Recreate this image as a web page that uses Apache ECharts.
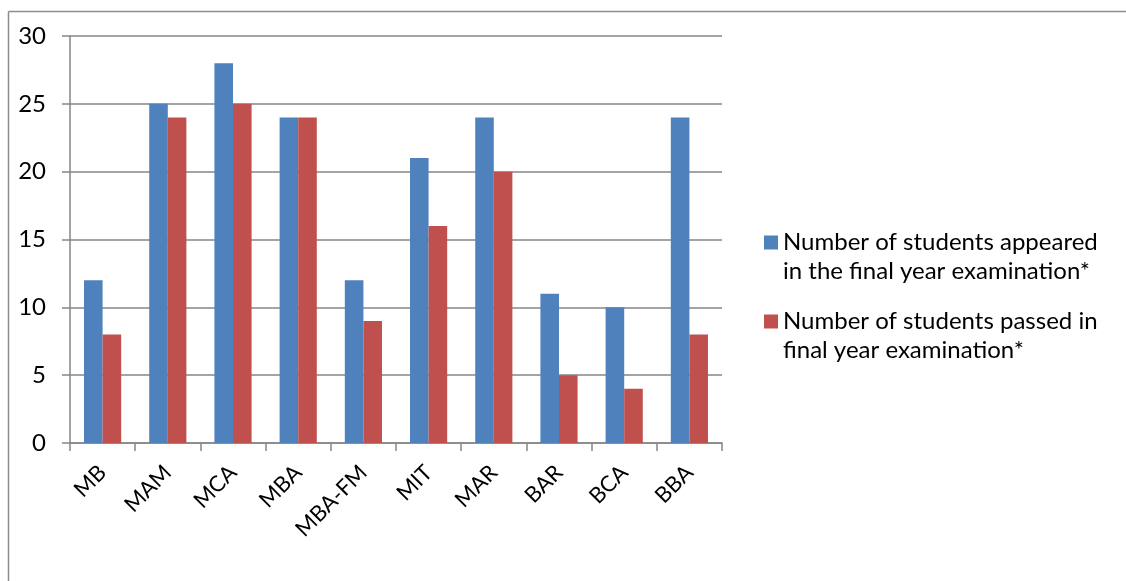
<!DOCTYPE html>
<html><head><meta charset="utf-8">
<script src="https://cdn.jsdelivr.net/npm/echarts@6/dist/echarts.min.js"></script>
<style>html,body{margin:0;padding:0;background:#fff}#c{width:1126px;height:581px}</style>
</head><body><div id="c"></div>
<script>
const categories = ['MB','MAM','MCA','MBA','MBA-FM','MIT','MAR','BAR','BCA','BBA'];
const appeared = [12,25,28,24,12,21,24,11,10,24];
const passed = [8,24,25,24,9,16,20,5,4,8];
const seriesNames = ['Number of students appeared\nin the final year examination*','Number of students passed in\nfinal year examination*'];
const yTicks = {min:0,max:30,interval:5};

const chart = echarts.init(document.getElementById('c'));
const FONT = 'Lato';
chart.setOption({
  animation:false,
  backgroundColor:'#fff',
  textStyle:{fontFamily:FONT},
  grid:{left:70,right:404,top:36,bottom:138,containLabel:false},
  graphic:[
    {type:'line',shape:{x1:8.5,y1:11.5,x2:1126,y2:11.5},style:{stroke:'#8c8c8c',lineWidth:1.5}},
    {type:'line',shape:{x1:8.5,y1:11.5,x2:8.5,y2:581},style:{stroke:'#8c8c8c',lineWidth:1.5}}
  ],
  legend:{
    orient:'vertical',left:764,top:199,padding:0,
    itemWidth:14,itemHeight:14,itemGap:-8,
    icon:'rect',
    data:seriesNames,
    formatter:function(n){return ' \n'+n;},
    textStyle:{fontFamily:FONT,fontSize:24,color:'#000',lineHeight:29}
  },
  xAxis:{
    type:'category',data:categories,
    axisLine:{lineStyle:{color:'#868686',width:1.5}},
    axisTick:{show:true,length:8,alignWithLabel:false,lineStyle:{color:'#868686',width:1.5}},
    axisLabel:{rotate:45,fontSize:22,color:'#000',margin:26,interval:0,fontFamily:FONT}
  },
  yAxis:{
    type:'value',min:yTicks.min,max:yTicks.max,interval:yTicks.interval,
    axisLine:{show:true,lineStyle:{color:'#868686',width:1.5}},
    axisTick:{show:true,length:8,lineStyle:{color:'#868686',width:1.5}},
    axisLabel:{fontSize:24,color:'#000',margin:24,fontFamily:FONT},
    splitLine:{lineStyle:{color:'#868686',width:1.5}}
  },
  series:[
    {name:seriesNames[0],type:'bar',data:appeared,itemStyle:{color:'#4F81BD'},barGap:'0%',barCategoryGap:'43%'},
    {name:seriesNames[1],type:'bar',data:passed,itemStyle:{color:'#C0504D'},barGap:'0%',barCategoryGap:'43%'}
  ]
});
</script></body></html>
